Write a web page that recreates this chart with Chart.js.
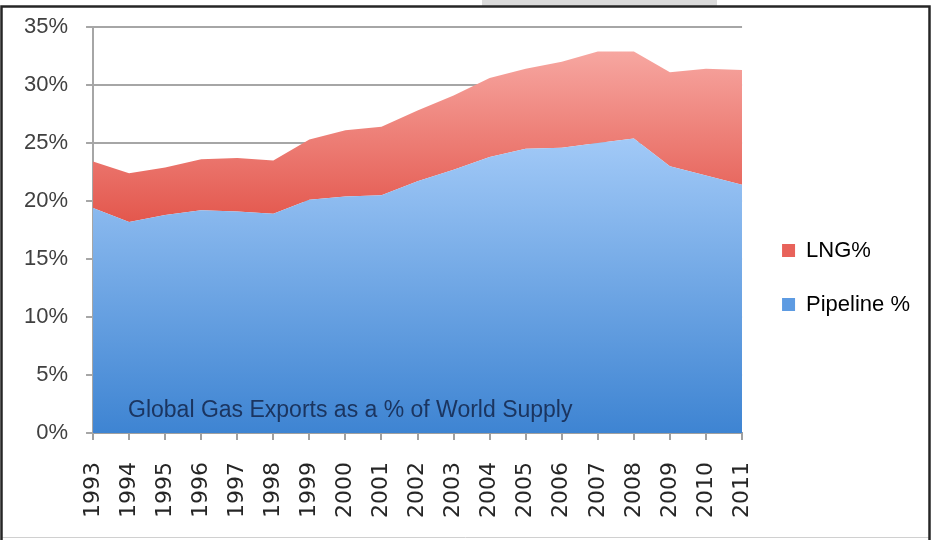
<!DOCTYPE html>
<html>
<head>
<meta charset="utf-8">
<script src="https://cdn.jsdelivr.net/npm/chart.js@4.4.1/dist/chart.umd.min.js"></script>
<style>
  html, body { margin: 0; padding: 0; background: #ffffff; }
  #wrap { width: 932px; height: 540px; position: relative; }
</style>
</head>
<body>
<div id="wrap"><canvas id="c" width="932" height="540"></canvas></div>
<script>
const years = ['1993','1994','1995','1996','1997','1998','1999','2000','2001','2002',
               '2003','2004','2005','2006','2007','2008','2009','2010','2011'];
const pipelinePct = [19.4, 18.2, 18.8, 19.2, 19.1, 18.9, 20.1, 20.4, 20.5, 21.7,
                     22.7, 23.8, 24.5, 24.6, 25.0, 25.4, 23.0, 22.2, 21.4];
const lngPct = [4.0, 4.2, 4.1, 4.4, 4.6, 4.6, 5.2, 5.7, 5.9, 6.1,
                6.4, 6.8, 6.9, 7.4, 7.9, 7.5, 8.1, 9.2, 9.9];
const yTicks = [0, 5, 10, 15, 20, 25, 30, 35];
const seriesNames = ['Pipeline %', 'LNG%'];
const noteText = 'Global Gas Exports as a % of World Supply';

function bandGradient(ctx, topVal, botVal, cTop, cBot) {
  const chart = ctx.chart;
  const y = chart.scales.y;
  if (!chart.chartArea || !y) return cBot;
  const g = chart.ctx.createLinearGradient(0, y.getPixelForValue(topVal), 0, y.getPixelForValue(botVal));
  g.addColorStop(0, cTop);
  g.addColorStop(1, cBot);
  return g;
}

const framePlugin = {
  id: 'frame',
  afterLayout(chart) {
    const lg = chart.legend;
    if (lg) {
      lg.left += 8; lg.right += 8;
      lg.top += 1; lg.bottom += 1;
    }
  },
  beforeDraw(chart) {
    const c = chart.ctx;
    c.save();
    c.fillStyle = '#ffffff';
    c.fillRect(0, 0, chart.width, chart.height);
    c.fillStyle = '#dadada';
    c.fillRect(482, 0, 235, 7);
    c.strokeStyle = '#d0d0d0';
    c.lineWidth = 1;
    c.beginPath(); c.moveTo(1, 537.5); c.lineTo(930, 537.5); c.stroke();
    c.strokeStyle = '#262626';
    c.lineWidth = 2.5;
    c.beginPath();
    c.moveTo(1.5, 540); c.lineTo(1.5, 6.5); c.lineTo(929.5, 6.5); c.lineTo(929.5, 540);
    c.stroke();
    c.restore();
  },
  afterDatasetsDraw(chart) {
    const c = chart.ctx;
    const y = chart.scales.y;
    c.save();
    c.font = '23px "Liberation Sans", Arial, sans-serif';
    c.fillStyle = '#1b3560';
    c.textBaseline = 'alphabetic';
    c.textAlign = 'left';
    c.fillText(noteText, chart.chartArea.left + 35, y.getPixelForValue(1.4));
    c.restore();
  }
};

new Chart(document.getElementById('c'), {
  type: 'line',
  data: {
    labels: years,
    datasets: [
      {
        label: seriesNames[0],
        data: pipelinePct,
        fill: 'origin',
        borderWidth: 0,
        pointRadius: 0,
        tension: 0,
        borderColor: 'rgba(0,0,0,0)',
        backgroundColor: (ctx) => bandGradient(ctx, 26, 0, '#a4cbf8', '#3e84d2')
      },
      {
        label: seriesNames[1],
        data: lngPct,
        fill: '-1',
        borderWidth: 0,
        pointRadius: 0,
        tension: 0,
        borderColor: 'rgba(0,0,0,0)',
        backgroundColor: (ctx) => bandGradient(ctx, 33, 18, '#f7a7a1', '#e3564c')
      }
    ]
  },
  options: {
    responsive: false,
    animation: false,
    devicePixelRatio: 1,
    layout: { padding: { left: 6, right: 20, top: 13, bottom: 0 } },
    plugins: {
      legend: {
        position: 'right',
        reverse: true,
        align: 'center',
        labels: {
          boxWidth: 13,
          boxHeight: 13,
          padding: 32,
          color: '#2b2b2b',
          font: { family: '"Liberation Sans", Arial, sans-serif', size: 22 },
          generateLabels(chart) {
            return chart.data.datasets.map((ds, i) => ({
              text: ds.label,
              fillStyle: i === 1 ? '#e8625a' : '#5d9be2',
              strokeStyle: 'rgba(0,0,0,0)',
              lineWidth: 0,
              datasetIndex: i,
              hidden: false
            }));
          }
        }
      },
      tooltip: { enabled: false }
    },
    scales: {
      x: {
        offset: false,
        grid: { drawOnChartArea: false, drawTicks: true, tickLength: 7, color: '#a0a0a0', lineWidth: 2 },
        border: { display: true, color: '#a0a0a0', width: 2 },
        ticks: {
          autoSkip: false,
          minRotation: 90,
          maxRotation: 90,
          padding: 22,
          color: '#262626',
          font: { family: '"DejaVu Sans", sans-serif', size: 22 }
        }
      },
      y: {
        stacked: true,
        min: 0,
        max: 35,
        afterBuildTicks(scale) { scale.ticks = yTicks.map(v => ({ value: v })); },
        grid: { color: '#a6a6a6', lineWidth: 2, tickLength: 7, drawTicks: true },
        border: { display: true, color: '#a6a6a6', width: 2 },
        ticks: {
          padding: 18,
          color: '#404040',
          font: { family: '"Liberation Sans", Arial, sans-serif', size: 22, lineHeight: 0.82 },
          callback: (v) => v + '%'
        }
      }
    }
  },
  plugins: [framePlugin]
});
</script>
</body>
</html>
